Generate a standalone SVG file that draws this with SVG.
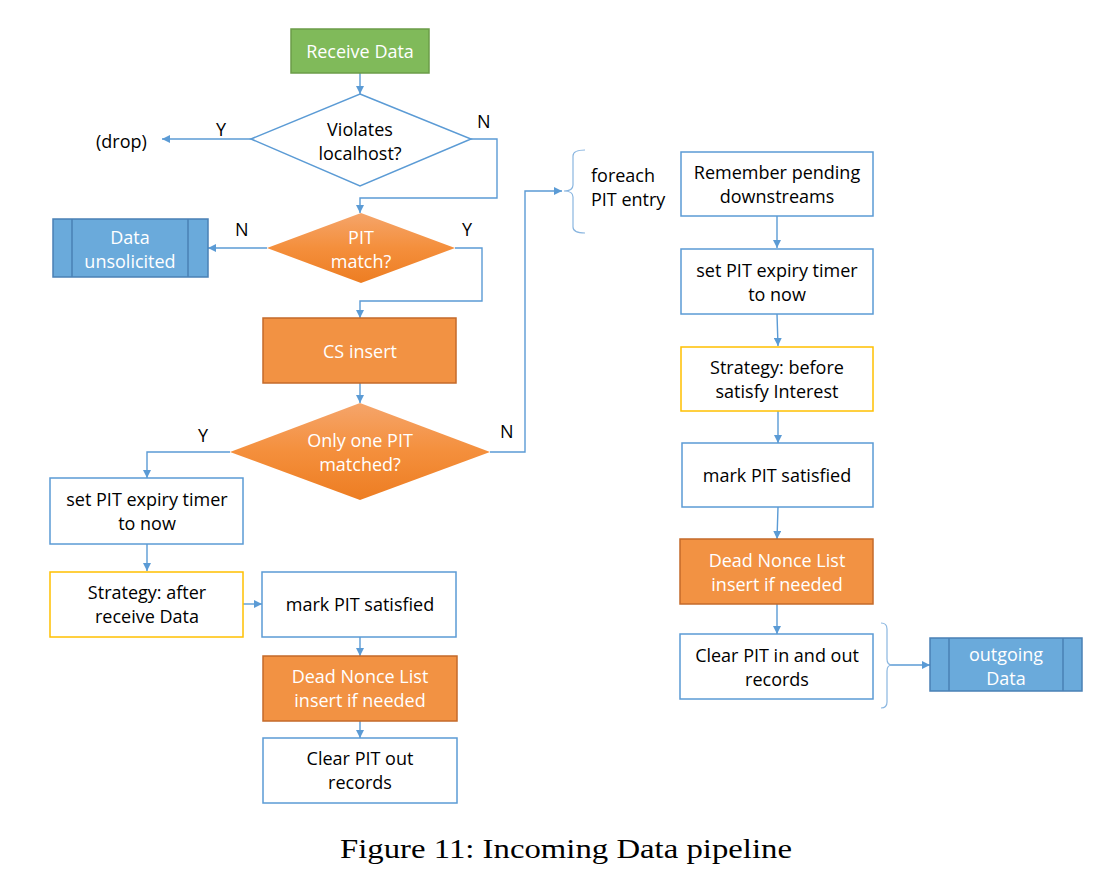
<svg xmlns="http://www.w3.org/2000/svg" width="1115" height="883" viewBox="0 0 1115 883">
<defs>
<marker id="ah" viewBox="0 0 10 10" refX="10" refY="5" markerWidth="8" markerHeight="8" markerUnits="userSpaceOnUse" orient="auto">
<path d="M0,0 L10,5 L0,10 z" fill="#5b9bd5"/>
</marker>
<linearGradient id="og" x1="0" y1="0" x2="0" y2="1">
<stop offset="0" stop-color="#f5a56b"/>
<stop offset="0.5" stop-color="#f48f3c"/>
<stop offset="1" stop-color="#ed7d22"/>
</linearGradient>
<style>
.t{font-family:"Open Sans",Lato,"Liberation Sans",sans-serif;font-size:18px;text-anchor:middle;fill:#000}
.w{fill:#fff}
.lb{font-family:"Open Sans",Lato,"Liberation Sans",sans-serif;font-size:18px;fill:#000}
.box{fill:#fff;stroke:#5b9bd5;stroke-width:1.5}
.ybox{fill:#fff;stroke:#ffc000;stroke-width:1.5}
.obox{fill:#f29243;stroke:#c46a2a;stroke-width:1.5}
.bbox{fill:#6aaadb;stroke:#4a80b5;stroke-width:1.5}
.c{fill:none;stroke:#5b9bd5;stroke-width:1.4;marker-end:url(#ah)}
.br{fill:none;stroke:#8ab6e0;stroke-width:1.2}
</style>
</defs>
<rect width="1115" height="883" fill="#fff"/>

<g id="connectors">
<path class="c" d="M360,73 V94"/>
<path class="c" d="M251,139 H162"/>
<path class="c" d="M471,139 H497 V198 H360 V213"/>
<path class="c" d="M267,248 H208"/>
<path class="c" d="M455,248 H482 V301 H360 V318"/>
<path class="c" d="M360,383 V403"/>
<path class="c" d="M230,452 H147 V478"/>
<path class="c" d="M490,452 H525 V191 H562"/>
<path class="c" d="M147,544 V571"/>
<path class="c" d="M243,604 H262"/>
<path class="c" d="M360,637 V656"/>
<path class="c" d="M360,721 V738"/>
<path class="c" d="M777,216 V248"/>
<path class="c" d="M777,314 L778,346"/>
<path class="c" d="M778,411 V443"/>
<path class="c" d="M778,507 L777,539"/>
<path class="c" d="M777,604 V634"/>
<path class="c" d="M890,665 H930"/>
<path class="br" d="M585,150 Q573,150 573,156 L573,185 Q573,191 564,191 Q573,191 573,197 L573,227 Q573,233 585,233"/>
<path class="br" d="M881,623 Q887,623 887,629 L887,659 Q887,665 892,665 Q887,665 887,671 L887,702 Q887,708 881,708"/>
<text class="lb" x="216" y="136">Y</text>
<text class="lb" x="477" y="128">N</text>
<text class="lb" x="235" y="236">N</text>
<text class="lb" x="462" y="236">Y</text>
<text class="lb" x="198" y="442">Y</text>
<text class="lb" x="500" y="438">N</text>
<text class="lb" x="96" y="148">(drop)</text>
<text class="lb" x="591" y="182">foreach</text>
<text class="lb" x="591" y="206">PIT entry</text>
</g>

<g id="receive-data">
<rect x="291" y="29" width="138" height="44" fill="#80ba5a" stroke="#6b9c48" stroke-width="1.5"/>
<text class="t w" x="360" y="58">Receive Data</text>
</g>

<g id="violates-localhost">
<polygon points="360,94 471,139 360,186 251,139" fill="#fff" stroke="#5b9bd5" stroke-width="1.5"/>
<text class="t" x="360" y="136">Violates</text>
<text class="t" x="360" y="160">localhost?</text>
</g>

<g id="pit-match">
<polygon points="361,213 455,248 361,283 267,248" fill="url(#og)"/>
<text class="t w" x="361" y="244">PIT</text>
<text class="t w" x="361" y="268">match?</text>
</g>

<g id="data-unsolicited">
<rect x="53" y="219" width="155" height="58" class="bbox"/>
<line x1="72" y1="219" x2="72" y2="277" stroke="#4a80b5" stroke-width="1.5"/>
<line x1="188" y1="219" x2="188" y2="277" stroke="#4a80b5" stroke-width="1.5"/>
<text class="t w" x="130" y="244">Data</text>
<text class="t w" x="130" y="268">unsolicited</text>
</g>

<g id="cs-insert">
<rect x="263" y="318" width="193" height="65" class="obox"/>
<text class="t w" x="360" y="358">CS insert</text>
</g>

<g id="only-one-pit">
<polygon points="360,403 490,452 360,500 230,452" fill="url(#og)"/>
<text class="t w" x="360" y="447">Only one PIT</text>
<text class="t w" x="360" y="471">matched?</text>
</g>

<g id="set-expiry-left">
<rect x="50" y="478" width="193" height="66" class="box"/>
<text class="t" x="147" y="506">set PIT expiry timer</text>
<text class="t" x="147" y="530">to now</text>
</g>

<g id="strategy-after">
<rect x="50" y="572" width="193" height="65" class="ybox"/>
<text class="t" x="147" y="599">Strategy: after</text>
<text class="t" x="147" y="623">receive Data</text>
</g>

<g id="mark-satisfied-left">
<rect x="262" y="572" width="194" height="65" class="box"/>
<text class="t" x="360" y="611">mark PIT satisfied</text>
</g>

<g id="dead-nonce-left">
<rect x="263" y="656" width="194" height="65" class="obox"/>
<text class="t w" x="360" y="683">Dead Nonce List</text>
<text class="t w" x="360" y="707">insert if needed</text>
</g>

<g id="clear-out-left">
<rect x="263" y="738" width="194" height="65" class="box"/>
<text class="t" x="360" y="765">Clear PIT out</text>
<text class="t" x="360" y="789">records</text>
</g>

<g id="remember-pending">
<rect x="681" y="152" width="192" height="64" class="box"/>
<text class="t" x="777" y="179">Remember pending</text>
<text class="t" x="777" y="203">downstreams</text>
</g>

<g id="set-expiry-right">
<rect x="681" y="249" width="192" height="65" class="box"/>
<text class="t" x="777" y="277">set PIT expiry timer</text>
<text class="t" x="777" y="301">to now</text>
</g>

<g id="strategy-before">
<rect x="681" y="347" width="192" height="64" class="ybox"/>
<text class="t" x="777" y="374">Strategy: before</text>
<text class="t" x="777" y="398">satisfy Interest</text>
</g>

<g id="mark-satisfied-right">
<rect x="682" y="443" width="191" height="64" class="box"/>
<text class="t" x="777" y="482">mark PIT satisfied</text>
</g>

<g id="dead-nonce-right">
<rect x="680" y="539" width="193" height="65" class="obox"/>
<text class="t w" x="777" y="567">Dead Nonce List</text>
<text class="t w" x="777" y="591">insert if needed</text>
</g>

<g id="clear-in-out">
<rect x="680" y="634" width="193" height="65" class="box"/>
<text class="t" x="777" y="662">Clear PIT in and out</text>
<text class="t" x="777" y="686">records</text>
</g>

<g id="outgoing-data">
<rect x="930" y="638" width="152" height="53" class="bbox"/>
<line x1="949" y1="638" x2="949" y2="691" stroke="#4a80b5" stroke-width="1.5"/>
<line x1="1063" y1="638" x2="1063" y2="691" stroke="#4a80b5" stroke-width="1.5"/>
<text class="t w" x="1006" y="661">outgoing</text>
<text class="t w" x="1006" y="685">Data</text>
</g>

<text x="566" y="858" font-family="'Liberation Serif',serif" font-size="28" text-anchor="middle" textLength="452" lengthAdjust="spacingAndGlyphs" fill="#000">Figure 11: Incoming Data pipeline</text>
</svg>
